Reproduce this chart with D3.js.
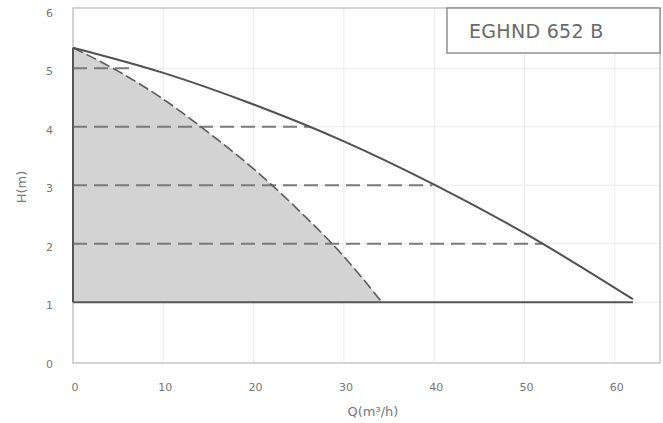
<!DOCTYPE html>
<html>
<head>
<meta charset="utf-8">
<script src="https://cdn.jsdelivr.net/npm/d3@7/dist/d3.min.js"></script>
<style>
  html, body { margin: 0; padding: 0; background: #fff; }
  svg { display: block; }
  text { font-family: "DejaVu Sans", sans-serif; }
</style>
</head>
<body>
<svg id="chart" width="663" height="423"></svg>
<script>
// Pump curve: flow Q (m³/h) against head H (m)
const flowQ = [0, 10, 20, 30, 40, 50, 62];
const headH = [5.35, 4.92, 4.38, 3.75, 3.01, 2.18, 1.05];

// Boundary of the recommended working zone (shaded)
const limitQ = [0, 5, 10, 15, 20, 25, 30, 34.2];
const limitH = [5.35, 4.95, 4.47, 3.90, 3.28, 2.57, 1.78, 1.0];

// Constant-head reference lines and where they meet the pump curve
const levelH = [5, 4, 3, 2];
const levelEndQ = [6.8, 26.2, 39.8, 52.0];

// Minimum head line
const minHead = 1;
const minHeadEndQ = 62;

// Axis ticks
const xTicks = [0, 10, 20, 30, 40, 50, 60];
const yTicks = [0, 1, 2, 3, 4, 5, 6];

const modelName = "EGHND 652 B";
const xTitle = "Q(m³/h)";
const yTitle = "H(m)";

const svg = d3.select("#chart");

const x = d3.scaleLinear().domain([0, 65]).range([73, 660]);
const y = d3.scaleLinear().domain([-0.04, 6.03]).range([363, 8]);

const [x0, x1] = x.range();
const [yb, yt] = y.range();

// Light grid
const grid = svg.append("g").attr("stroke", "#ebebeb").attr("stroke-width", 1);
grid.selectAll("line.v").data(xTicks.filter(d => d > 0)).join("line")
  .attr("class", "v")
  .attr("x1", d => x(d)).attr("x2", d => x(d))
  .attr("y1", yt).attr("y2", yb);
grid.selectAll("line.h").data(yTicks.filter(d => d > 0 && d < 6)).join("line")
  .attr("class", "h")
  .attr("x1", x0).attr("x2", x1)
  .attr("y1", d => y(d)).attr("y2", d => y(d));

// Plot frame
svg.append("rect")
  .attr("x", x0).attr("y", yt)
  .attr("width", x1 - x0).attr("height", yb - yt)
  .attr("fill", "none").attr("stroke", "#b8b8b8").attr("stroke-width", 1.2);

// Shaded working zone
const limitPts = limitQ.map((q, i) => [q, limitH[i]]);
const area = d3.area()
  .x(d => x(d[0]))
  .y0(y(minHead))
  .y1(d => y(d[1]))
  .curve(d3.curveMonotoneX);
svg.append("path")
  .datum(limitPts)
  .attr("d", area)
  .attr("fill", "#d3d3d3");

// Constant-head dashed lines
svg.append("g").selectAll("line").data(levelH).join("line")
  .attr("x1", x(0))
  .attr("x2", (d, i) => x(levelEndQ[i]))
  .attr("y1", d => y(d)).attr("y2", d => y(d))
  .attr("stroke", "#7a7a7a")
  .attr("stroke-width", 2)
  .attr("stroke-dasharray", "14,7");

// Zone boundary (dashed)
const line = d3.line().x(d => x(d[0])).y(d => y(d[1])).curve(d3.curveMonotoneX);
svg.append("path")
  .datum(limitPts)
  .attr("d", line)
  .attr("fill", "none")
  .attr("stroke", "#5a5a5a")
  .attr("stroke-width", 1.6)
  .attr("stroke-dasharray", "11,4");

// Left edge of zone
svg.append("line")
  .attr("x1", x(0)).attr("x2", x(0))
  .attr("y1", y(minHead)).attr("y2", y(headH[0]))
  .attr("stroke", "#555").attr("stroke-width", 2);

// Minimum head line
svg.append("line")
  .attr("x1", x(0)).attr("x2", x(minHeadEndQ))
  .attr("y1", y(minHead)).attr("y2", y(minHead))
  .attr("stroke", "#555").attr("stroke-width", 2);

// Pump curve
const pumpPts = flowQ.map((q, i) => [q, headH[i]]);
svg.append("path")
  .datum(pumpPts)
  .attr("d", line)
  .attr("fill", "none")
  .attr("stroke", "#505050")
  .attr("stroke-width", 2);

// Axes (labels only)
const xAxis = svg.append("g")
  .attr("transform", `translate(1.5,${yb})`)
  .call(d3.axisBottom(x).tickValues(xTicks).tickFormat(d3.format("d")).tickSize(0).tickPadding(20));
const yAxis = svg.append("g")
  .attr("transform", `translate(${x0},3)`)
  .call(d3.axisLeft(y).tickValues(yTicks).tickFormat(d3.format("d")).tickSize(0).tickPadding(20));
[xAxis, yAxis].forEach(g => {
  g.select(".domain").remove();
  g.selectAll("text")
    .attr("fill", "#777")
    .style("font-family", "'DejaVu Sans', sans-serif")
    .style("font-size", "11px");
});

// Axis titles
svg.append("text")
  .attr("x", 373).attr("y", 416)
  .attr("text-anchor", "middle")
  .attr("fill", "#777")
  .style("font-size", "13px")
  .text(xTitle);
svg.append("text")
  .attr("transform", "translate(26,187) rotate(-90)")
  .attr("text-anchor", "middle")
  .attr("fill", "#777")
  .style("font-size", "13px")
  .text(yTitle);

// Model name box
svg.append("rect")
  .attr("x", 447).attr("y", 8)
  .attr("width", 213).attr("height", 45)
  .attr("fill", "#fff")
  .attr("stroke", "#8a8a8a").attr("stroke-width", 1.4);
svg.append("text")
  .attr("x", 469).attr("y", 38)
  .attr("fill", "#6a6a6a")
  .style("font-size", "19px")
  .style("letter-spacing", "0.3px")
  .text(modelName);
</script>
</body>
</html>
